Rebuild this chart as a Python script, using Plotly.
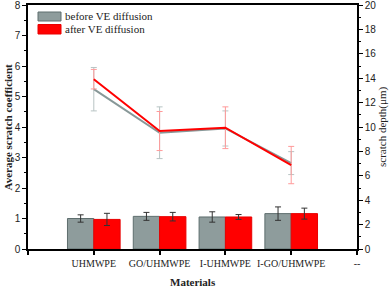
import plotly.graph_objects as go

categories = ["UHMWPE", "GO/UHMWPE", "I-UHMWPE", "I-GO/UHMWPE"]
tick_labels = ["", "UHMWPE", "GO/UHMWPE", "I-UHMWPE", "I-GO/UHMWPE", "--"]
cat_pos = [1, 2, 3, 4]
series_names = ["before VE diffusion", "after VE diffusion"]

# Average scratch coefficient (bars, left axis)
coef_before = [1.00, 1.07, 1.05, 1.16]
coef_before_err = [0.12, 0.13, 0.17, 0.22]
coef_after = [0.97, 1.06, 1.05, 1.16]
coef_after_err = [0.20, 0.14, 0.08, 0.18]

# Scratch depth (lines, right axis, um)
depth_before = [13.1, 9.53, 9.88, 7.04]
depth_before_err = [1.78, 2.12, 1.44, 0.94]
depth_after = [13.92, 9.67, 9.94, 6.88]
depth_after_err = [0.80, 1.60, 1.71, 1.53]

SERIF = "Liberation Serif"
SANS = "Liberation Sans"
GREY = "#8E9C9C"
GREY_EDGE = "#5E6E6E"
RED = "#FF0000"
TXT = "#222222"

W, H = 392, 288
L, R, T, B = 28, 35, 5, 39
PW, PH = W - L - R, H - T - B

def px_x(p):
    return (p - L) / PW

def px_y(p):
    return (H - B - p) / PH

fig = go.Figure()

fig.add_trace(go.Bar(
    x=cat_pos, y=coef_before, name=series_names[0], offsetgroup="a", showlegend=False,
    marker=dict(color=GREY, line=dict(color=GREY_EDGE, width=1)),
    error_y=dict(type="data", array=coef_before_err, color="#333333", thickness=1, width=3),
))
fig.add_trace(go.Bar(
    x=cat_pos, y=coef_after, name=series_names[1], offsetgroup="b", showlegend=False,
    marker=dict(color=RED, line=dict(color="#E80000", width=1)),
    error_y=dict(type="data", array=coef_after_err, color="#333333", thickness=1, width=3),
))

fig.add_trace(go.Scatter(
    x=cat_pos, y=depth_before, mode="lines", yaxis="y2", showlegend=False,
    line=dict(color="#889898", width=2),
    error_y=dict(type="data", array=depth_before_err, color="#B8C4C4", thickness=1, width=3),
))
fig.add_trace(go.Scatter(
    x=cat_pos, y=depth_after, mode="lines", yaxis="y2", showlegend=False,
    line=dict(color=RED, width=2),
    error_y=dict(type="data", array=depth_after_err, color="#FF9A9A", thickness=1, width=3),
))

# manual legend (patches + labels)
shapes = [
    dict(type="rect", xref="paper", yref="paper", x0=px_x(38), x1=px_x(61), y0=px_y(21), y1=px_y(12),
         fillcolor=GREY, line=dict(color=GREY_EDGE, width=1)),
    dict(type="rect", xref="paper", yref="paper", x0=px_x(38), x1=px_x(61), y0=px_y(34), y1=px_y(24.5),
         fillcolor=RED, line=dict(color="#E80000", width=1)),
]
annotations = [
    dict(text=series_names[0], xref="paper", yref="paper", x=px_x(63), y=px_y(16.5),
         xanchor="left", yanchor="middle", showarrow=False, font=dict(family=SERIF, size=11, color=TXT)),
    dict(text=series_names[1], xref="paper", yref="paper", x=px_x(63), y=px_y(29),
         xanchor="left", yanchor="middle", showarrow=False, font=dict(family=SERIF, size=11, color=TXT)),
    dict(text="<b>Materials</b>", xref="paper", yref="paper", x=0.5, y=px_y(282),
         xanchor="center", yanchor="middle", showarrow=False, font=dict(family=SERIF, size=11, color=TXT)),
    dict(text="<b>Average scratch coefficient</b>", xref="paper", yref="paper", x=px_x(7.5), y=0.5,
         xanchor="center", yanchor="middle", textangle=-90, showarrow=False,
         font=dict(family=SERIF, size=11, color=TXT)),
    dict(text="scratch depth(μm)", xref="paper", yref="paper", x=px_x(382), y=0.5,
         xanchor="center", yanchor="middle", textangle=-90, showarrow=False,
         font=dict(family=SERIF, size=11, color=TXT)),
]

fig.update_layout(
    width=W, height=H,
    margin=dict(l=L, r=R, t=T, b=B, autoexpand=False),
    plot_bgcolor="white", paper_bgcolor="white",
    barmode="group", bargap=0.2, bargroupgap=0,
    showlegend=False,
    shapes=shapes, annotations=annotations,
    xaxis=dict(
        range=[0, 5], tickmode="array", tickvals=[0, 1, 2, 3, 4, 5], ticktext=tick_labels,
        showline=True, linecolor="black", linewidth=1.5, mirror=True, automargin=False,
        ticks="outside", ticklen=4, tickcolor="black", tickwidth=1.5,
        showgrid=False, zeroline=False,
        tickfont=dict(family=SERIF, size=10, color=TXT),
    ),
    yaxis=dict(
        range=[0, 8.0001], tickmode="array", tickvals=[0, 1, 2, 3, 4, 5, 6, 7, 8],
        showline=True, linecolor="black", linewidth=1.5, automargin=False,
        ticklabeloverflow="allow",
        ticks="outside", ticklen=4, tickcolor="black", tickwidth=1,
        minor=dict(dtick=0.5, ticks="outside", ticklen=2, tickcolor="black"),
        showgrid=False, zeroline=False,
        tickfont=dict(family=SANS, size=10, color=TXT),
    ),
    yaxis2=dict(
        range=[0, 20.0002], tickmode="array", tickvals=list(range(0, 21, 2)),
        overlaying="y", side="right", anchor="x", automargin=False,
        ticklabeloverflow="allow",
        showline=True, linecolor="black", linewidth=1.5,
        ticks="outside", ticklen=4, tickcolor="black", tickwidth=1,
        minor=dict(dtick=1, ticks="outside", ticklen=2, tickcolor="black"),
        showgrid=False, zeroline=False,
        tickfont=dict(family=SANS, size=10, color=TXT),
    ),
)

fig.write_html("out.html", config={"displayModeBar": False},
               post_script="document.body.style.margin='0';document.body.style.overflow='hidden';")
